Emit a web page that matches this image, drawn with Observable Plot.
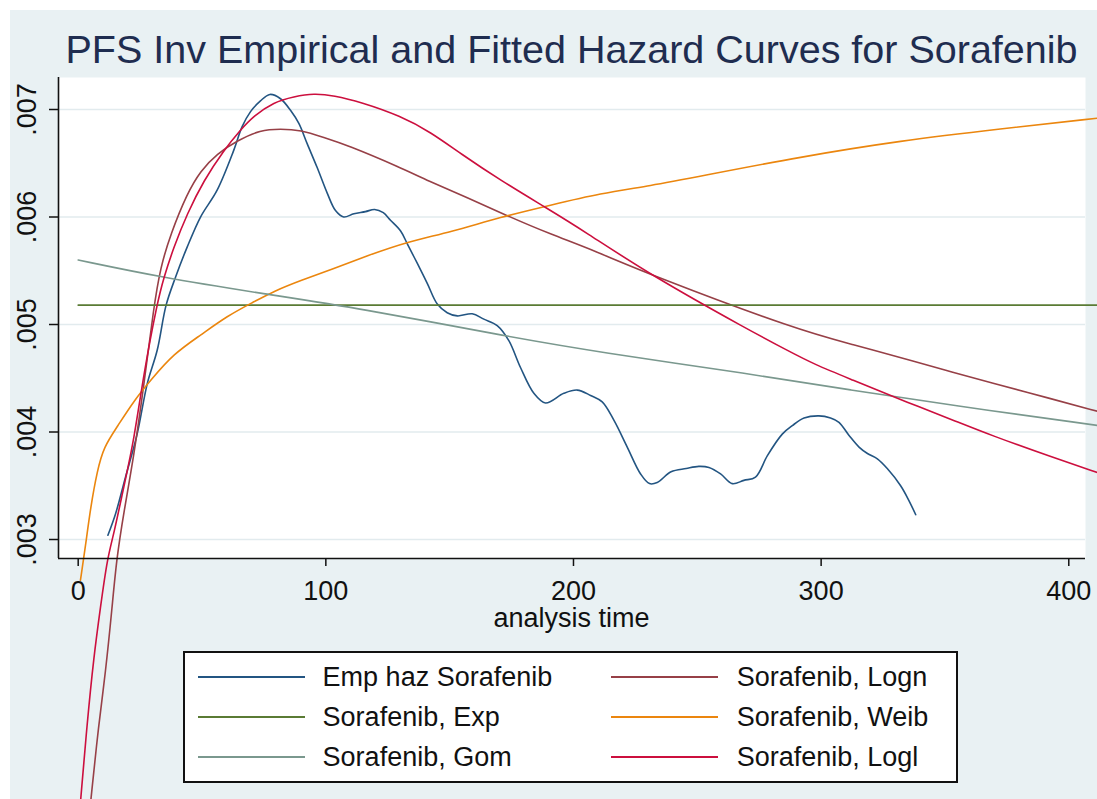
<!DOCTYPE html>
<html>
<head>
<meta charset="utf-8">
<script src="https://cdn.jsdelivr.net/npm/d3@7"></script>
<script src="https://cdn.jsdelivr.net/npm/@observablehq/plot@0.6"></script>
<style>
  html, body { margin: 0; padding: 0; background: #ffffff; overflow: hidden; }
  #wrap { position: relative; width: 1097px; height: 799px; font-family: "Liberation Sans", Arial, Helvetica, sans-serif; }
  #bg { position: absolute; left: 10px; top: 10px; right: 0; bottom: 0; background: #e9f1f3; }
  #chart { position: absolute; left: 0; top: 0; }
  #title { position: absolute; left: 58px; width: 1027px; top: 29px; text-align: center; font-size: 39.5px; line-height: 40px; color: #1f2d50; white-space: nowrap; }
  #xlabel { position: absolute; left: 58px; width: 1027px; top: 605px; text-align: center; font-size: 27px; line-height: 27px; color: #111; white-space: nowrap; }
  #legend { position: absolute; left: 183px; top: 651px; width: 771px; height: 128px; border: 2px solid #111; background: #fff; }
  .sw { position: absolute; height: 2px; width: 107px; }
  .lab { position: absolute; font-size: 27px; line-height: 27px; color: #111; white-space: nowrap; }
</style>
</head>
<body>
<div id="wrap">
  <div id="bg"></div>
  <div id="chart"></div>
  <div id="title"></div>
  <div id="xlabel"></div>
  <div id="legend"></div>
</div>
<script>
// ---------- data ----------
const titleText = "PFS Inv Empirical and Fitted Hazard Curves for Sorafenib";
const xLabelText = "analysis time";

const xTicks = [0, 100, 200, 300, 400];
const xTickLabels = ["0", "100", "200", "300", "400"];
const yTicks = [0.003, 0.004, 0.005, 0.006, 0.007];
const yTickLabels = [".003", ".004", ".005", ".006", ".007"];

const seriesNames = ["Emp haz Sorafenib", "Sorafenib, Logn", "Sorafenib, Exp", "Sorafenib, Weib", "Sorafenib, Gom", "Sorafenib, Logl"];
const seriesColors = ["#235582", "#974047", "#5a7b34", "#eb860e", "#7a988e", "#cc0f3e"];

// Empirical hazard
const empT = [12.0, 15.1, 19.1, 23.8, 27.9, 31.9, 35.5, 39.3, 44.0, 49.4, 56.1, 62.8, 66.2, 69.6, 73.6, 77.4, 81.7, 85.8, 89.1, 92.5, 96.5, 100.6, 103.9, 107.2, 111.3, 116.0, 119.7, 123.2, 126.1, 130.2, 132.9, 136.9, 141.0, 145.0, 149.0, 153.1, 159.1, 163.8, 169.2, 173.9, 178.6, 184.0, 188.7, 196.1, 201.5, 206.9, 211.6, 216.3, 221.7, 227.1, 230.7, 233.8, 239.4, 245.5, 250.6, 254.7, 259.4, 264.1, 268.8, 273.5, 278.3, 284.3, 288.4, 293.1, 299.1, 303.8, 307.2, 311.2, 315.3, 318.7, 322.7, 326.7, 332.1, 335.5, 338.2];
const empHaz = [0.00304, 0.00324, 0.00358, 0.00398, 0.00445, 0.00476, 0.00518, 0.00544, 0.00572, 0.00600, 0.00625, 0.00662, 0.00684, 0.00698, 0.00708, 0.00714, 0.00710, 0.00699, 0.00687, 0.00668, 0.00646, 0.00622, 0.00606, 0.00600, 0.00603, 0.00605, 0.00607, 0.00604, 0.00597, 0.00587, 0.00575, 0.00557, 0.00538, 0.00519, 0.00511, 0.00508, 0.00510, 0.00505, 0.00499, 0.00485, 0.00460, 0.00436, 0.00427, 0.00436, 0.00439, 0.00434, 0.00428, 0.00411, 0.00386, 0.00361, 0.00352, 0.00353, 0.00363, 0.00366, 0.00368, 0.00367, 0.00361, 0.00352, 0.00355, 0.00358, 0.00378, 0.00398, 0.00406, 0.00413, 0.00415, 0.00413, 0.00409, 0.00397, 0.00386, 0.00380, 0.00375, 0.00366, 0.00350, 0.00336, 0.00323];

// Log-normal fit
const lognT = [5.0, 8.3, 11.0, 13.7, 15.5, 18.4, 22.5, 26.5, 30.5, 33.2, 37.3, 44.0, 49.4, 56.1, 64.2, 73.6, 81.7, 89.8, 99.2, 108.6, 130.2, 141.0, 157.1, 173.3, 190.7, 208.2, 231.1, 291.7, 311.9, 338.9, 352.3, 368.5, 392.7, 412.0];
const lognHaz = [0.00055, 0.00129, 0.00175, 0.00237, 0.00282, 0.00325, 0.00378, 0.00443, 0.00516, 0.00553, 0.00584, 0.00622, 0.00643, 0.00659, 0.00671, 0.00681, 0.00682, 0.00681, 0.00674, 0.00667, 0.00646, 0.00634, 0.00618, 0.00601, 0.00584, 0.00569, 0.00546, 0.00494, 0.00482, 0.00465, 0.00456, 0.00446, 0.00431, 0.00419];

// Exponential fit
const expT = [0, 412.0];
const expHaz = [0.00518, 0.00518];

// Weibull fit
const weibT = [0.9, 2.9, 5.0, 7.7, 10.3, 15.8, 22.5, 29.2, 38.6, 49.4, 60.2, 70.9, 79.0, 89.8, 103.2, 116.7, 132.9, 150.4, 170.6, 190.7, 210.9, 231.1, 251.3, 291.7, 332.1, 372.5, 412.0];
const weibHaz = [0.00262, 0.00293, 0.00330, 0.00364, 0.00386, 0.00405, 0.00429, 0.00448, 0.00473, 0.00490, 0.00508, 0.00521, 0.00531, 0.00541, 0.00552, 0.00564, 0.00577, 0.00586, 0.00600, 0.00611, 0.00622, 0.00629, 0.00638, 0.00656, 0.00671, 0.00682, 0.00692];

// Gompertz fit
const gomT = [0, 33.2, 73.6, 114.0, 170.6, 210.9, 271.5, 311.9, 352.3, 412.0];
const gomHaz = [0.00560, 0.00544, 0.00529, 0.00515, 0.00490, 0.00474, 0.00454, 0.00439, 0.00425, 0.00406];

// Log-logistic fit
const loglT = [0.9, 3.6, 6.3, 9.0, 11.7, 14.4, 18.4, 22.5, 26.5, 31.9, 34.6, 38.6, 44.0, 50.7, 58.8, 65.5, 70.9, 79.0, 87.1, 95.2, 103.2, 114.0, 130.2, 142.3, 154.4, 170.6, 189.4, 204.2, 231.1, 271.5, 286.3, 297.1, 313.2, 328.0, 338.9, 352.3, 368.5, 392.7, 412.0];
const loglHaz = [0.00055, 0.00129, 0.00191, 0.00237, 0.00282, 0.00305, 0.00349, 0.00392, 0.00455, 0.00520, 0.00544, 0.00572, 0.00603, 0.00634, 0.00662, 0.00681, 0.00694, 0.00707, 0.00712, 0.00715, 0.00713, 0.00707, 0.00694, 0.00679, 0.00659, 0.00634, 0.00608, 0.00587, 0.00546, 0.00494, 0.00476, 0.00463, 0.00448, 0.00434, 0.00424, 0.00412, 0.00397, 0.00377, 0.00362];

// ---------- build ----------
const xDomain = [-7.95, 406.75];
const yDomain = [0.0028233, 0.0072977];

const zipRows = (ts, vs) => ts.map((t, i) => ({t, v: vs[i]}));
const seriesData = [
  zipRows(empT, empHaz),
  zipRows(lognT, lognHaz),
  zipRows(expT, expHaz),
  zipRows(weibT, weibHaz),
  zipRows(gomT, gomHaz),
  zipRows(loglT, loglHaz)
];

const lineMarks = seriesData.map((rows, i) =>
  Plot.line(rows, {
    x: "t", y: "v",
    stroke: seriesColors[i],
    strokeWidth: 1.6,
    curve: i === 0 ? "catmull-rom" : "basis"
  })
);

const chart = Plot.plot({
  width: 1097,
  height: 799,
  marginLeft: 58,
  marginRight: 12,
  marginTop: 77,
  marginBottom: 241,
  style: {background: "transparent", fontFamily: "'Liberation Sans', Arial, sans-serif", fontSize: "27px", color: "#111"},
  x: {domain: xDomain},
  y: {domain: yDomain},
  marks: [
    Plot.frame({fill: "white", stroke: "none"}),
    Plot.gridY({ticks: yTicks, stroke: "#e2ebee", strokeOpacity: 1, strokeWidth: 1.5}),
    ...lineMarks,
    Plot.ruleX([xDomain[0]], {stroke: "#111", strokeWidth: 1.6}),
    Plot.ruleY([yDomain[0]], {stroke: "#111", strokeWidth: 1.6}),
    Plot.axisX({ticks: xTicks, tickSize: 8, tickPadding: 14, strokeWidth: 1.5, label: null,
      tickFormat: d => xTickLabels[xTicks.indexOf(d)]}),
    Plot.axisY({ticks: yTicks, tickSize: 9, strokeWidth: 1.5, label: null, tickFormat: () => ""}),
    Plot.text(yTicks, {y: d => d, frameAnchor: "left", dx: -23, rotate: -90,
      text: (d, i) => yTickLabels[i], lineAnchor: "bottom", textAnchor: "middle", fontSize: 27, fill: "#111"})
  ]
});
document.getElementById("chart").appendChild(chart);

document.getElementById("title").textContent = titleText;
document.getElementById("xlabel").textContent = xLabelText;

// legend (2 columns, row-major like Stata)
const legend = document.getElementById("legend");
const colSwatchX = [13, 426];
const colTextX = [137.6, 551.7];
const rowY = [24.3, 64.3, 104.3];
seriesNames.forEach((name, i) => {
  const col = i % 2, row = Math.floor(i / 2);
  const sw = document.createElement("div");
  sw.className = "sw";
  sw.style.left = colSwatchX[col] + "px";
  sw.style.top = (rowY[row] - 1) + "px";
  sw.style.background = seriesColors[i];
  legend.appendChild(sw);
  const lab = document.createElement("div");
  lab.className = "lab";
  lab.style.left = colTextX[col] + "px";
  lab.style.top = (rowY[row] - 13.2) + "px";
  lab.textContent = name;
  legend.appendChild(lab);
});
</script>
</body>
</html>
